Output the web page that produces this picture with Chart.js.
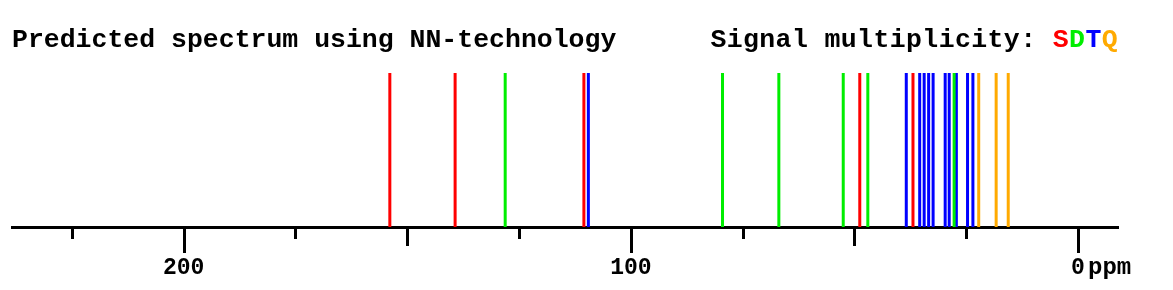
<!DOCTYPE html>
<html>
<head>
<meta charset="utf-8">
<script src="https://cdn.jsdelivr.net/npm/chart.js@4.4.0/dist/chart.umd.min.js"></script>
<style>
  body { margin: 0; background: #fff; }
  #wrap { position: relative; width: 1173px; height: 290px; }
  #head { position: absolute; left: 12px; top: 27px; width: 1106px; font: bold 26.5px "Liberation Mono", monospace; line-height: 26px; white-space: pre; }
  #head .right { position: absolute; right: 0; top: 0; letter-spacing: 0.4px; }
</style>
</head>
<body>
<div id="wrap">
  <canvas id="spec" width="1173" height="290"></canvas>
  <div id="head">Predicted spectrum using NN-technology<span class="right">Signal multiplicity: <span style="color:#ff0000">S</span><span style="color:#00ee00">D</span><span style="color:#0000ff">T</span><span style="color:#ffaa00">Q</span></span></div>
</div>
<script>
// predicted shifts (ppm), grouped by multiplicity
var singlets = [153.9, 139.3, 110.5, 48.8, 36.9];
var doublets = [128.1, 79.5, 66.9, 52.5, 47.0, 27.7];
var triplets = [109.5, 38.4, 35.4, 34.4, 33.4, 32.4, 29.7, 28.8, 27.2, 24.7, 23.5];
var quartets = [22.2, 18.3, 15.6];

var tickValues = [225, 200, 175, 150, 125, 100, 75, 50, 25, 0];
var tickLabels = {200: '200', 100: '100', 0: '0'};

function sticks(list) {
    var out = [];
    list.forEach(function (p) {
        out.push({x: p, y: 0}, {x: p, y: 1}, {x: p, y: null});
    });
    return out;
}

function ds(list, color) {
    return {
        data: sticks(list),
        borderColor: color,
        borderWidth: 3,
        borderCapStyle: 'butt',
        pointRadius: 0,
        spanGaps: false,
        tension: 0
    };
}

// tick marks of three lengths + unit label
var axisExtras = {
    id: 'axisExtras',
    afterDraw: function (chart) {
        var sc = chart.scales.x;
        var ctx = chart.ctx;
        var y0 = sc.top;
        ctx.save();
        ctx.strokeStyle = '#000';
        ctx.lineWidth = 3;
        tickValues.forEach(function (v) {
            var len = v % 100 === 0 ? 26 : (v % 50 === 0 ? 19 : 12);
            var px = Math.round(sc.getPixelForValue(v)) + 0.5;
            ctx.beginPath();
            ctx.moveTo(px, y0);
            ctx.lineTo(px, y0 + len);
            ctx.stroke();
        });
        ctx.fillStyle = '#000';
        ctx.font = 'bold 24px "Liberation Mono", monospace';
        ctx.textBaseline = 'alphabetic';
        ctx.textAlign = 'left';
        ctx.fillText('ppm', sc.getPixelForValue(0) + 10, y0 + 47);
        ctx.restore();
    }
};

var ctx = document.getElementById('spec').getContext('2d');
var myChart = new Chart(ctx, {
    type: 'line',
    data: {
        datasets: [
            ds(singlets, '#ff0000'),
            ds(doublets, '#00ee00'),
            ds(triplets, '#0000ff'),
            ds(quartets, '#ffaa00')
        ]
    },
    options: {
        responsive: false,
        animation: false,
        devicePixelRatio: 1,
        layout: { padding: { top: 73, left: 12, right: 55, bottom: 0 } },
        plugins: { legend: { display: false }, tooltip: { enabled: false } },
        scales: {
            x: {
                type: 'linear',
                reverse: true,
                min: -8.95,
                max: 238.4,
                afterBuildTicks: function (scale) {
                    scale.ticks = tickValues.map(function (v) { return {value: v}; });
                },
                afterFit: function (scale) { scale.height = 63; },
                grid: { display: false, drawTicks: false },
                border: { display: true, width: 3, color: '#000' },
                ticks: {
                    padding: 27,
                    color: '#000',
                    maxRotation: 0,
                    autoSkip: false,
                    font: { family: '"Liberation Mono", monospace', size: 23, weight: 'bold' },
                    callback: function (v) { return tickLabels[v] || ''; }
                }
            },
            y: { display: false, min: 0, max: 1 }
        }
    },
    plugins: [axisExtras]
});
</script>
</body>
</html>
